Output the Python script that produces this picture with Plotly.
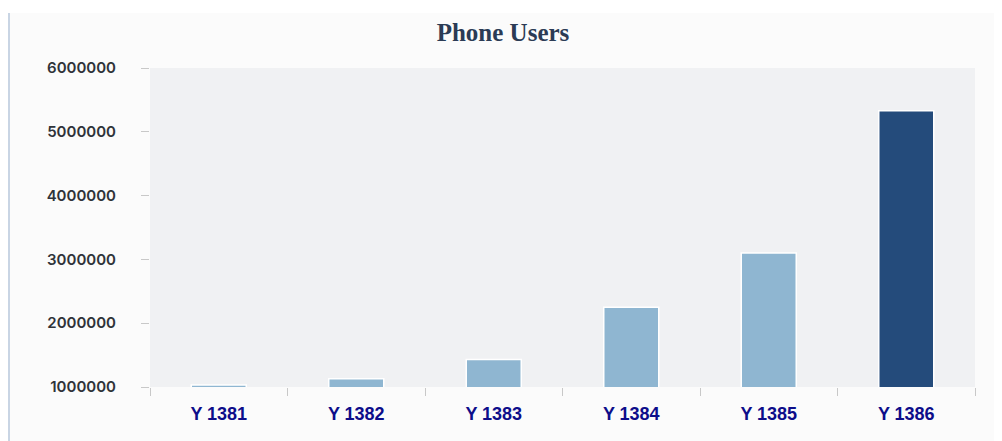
import plotly.graph_objects as go

categories = ["Y 1381", "Y 1382", "Y 1383", "Y 1384", "Y 1385", "Y 1386"]
users = [1030000, 1130000, 1430000, 2250000, 3100000, 5330000]
bar_colors = ["#8fb6d1", "#8fb6d1", "#8fb6d1", "#8fb6d1", "#8fb6d1", "#244b7b"]
y_ticks = [1000000, 2000000, 3000000, 4000000, 5000000, 6000000]

fig = go.Figure(go.Bar(
    x=categories, y=users,
    marker=dict(color=bar_colors, line=dict(color="white", width=1.5)),
    width=0.4,
))

# page has an 8px body margin; figure occupies page 8..1002 x 8..441
W, H = 994, 433
L, R, T, B = 142, 27, 60, 54
pw = W - L - R
ph = H - T - B

def py(pix):
    return 1 - (pix - T) / ph

def px(pix):
    return (pix - L) / pw

fig.update_layout(
    width=W, height=H,
    margin=dict(l=L, r=R, t=T, b=B),
    paper_bgcolor="#fbfbfb",
    plot_bgcolor="#f0f1f3",
    showlegend=False,
    title=dict(text="<b>Phone Users</b>", xref="container", x=495 / W, xanchor="center",
               y=1 - 24 / H, yanchor="middle",
               font=dict(family="Liberation Serif", size=25, color="#2b3b55")),
    xaxis=dict(
        tickson="boundaries", ticks="outside", ticklen=8, tickcolor="#c8c8c8", tickwidth=1,
        showgrid=False, showline=False, zeroline=False,
        tickfont=dict(family="Liberation Sans", size=18, color="#0d0d8a", weight="bold"),
        ticklabelstandoff=14,
    ),
    yaxis=dict(
        range=[1000000, 6000000], tickvals=y_ticks, ticktext=[str(v) for v in y_ticks],
        ticks="outside", ticklen=8, tickcolor="#c8c8c8", tickwidth=1,
        showgrid=False, zeroline=False, showline=False,
        tickfont=dict(family="Inter", size=15, color="#2f3339", weight=600),
        ticklabelstandoff=22,
    ),
    shapes=[
        dict(type="rect", xref="paper", yref="paper", x0=px(0), x1=px(W),
             y0=py(5), y1=py(0), fillcolor="white", line=dict(width=0), layer="below"),
        dict(type="line", xref="paper", yref="paper", x0=px(1), x1=px(1),
             y0=py(H), y1=py(5), line=dict(color="#b9c9dd", width=1.5)),
    ],
)

fig.write_html("out.html")
